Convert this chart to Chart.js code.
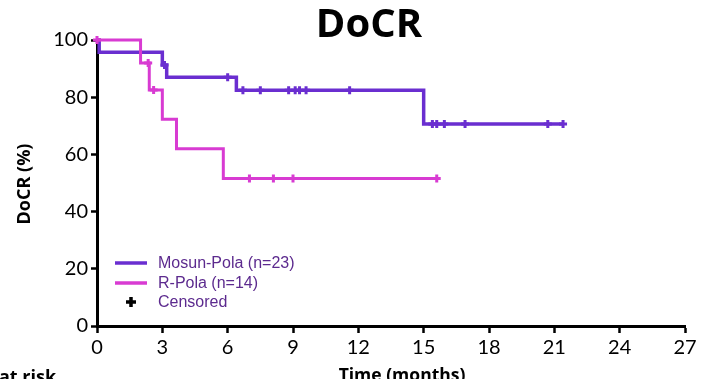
<!DOCTYPE html>
<html lang="en">
<head>
    <meta charset="UTF-8">
    <title>DoCR</title>
    <script src="https://cdn.jsdelivr.net/npm/chart.js"></script>
    <style>
        html, body { margin: 0; padding: 0; background: #fff; }
        #wrap { width: 713px; height: 379px; }
    </style>
</head>
<body>
    <div id="wrap"><canvas id="docrChart"></canvas></div>

    <script>
    // Kaplan-Meier steps: time of each event (months) and survival after it (%)
    const mosunTimes = [0, 0.1, 3.0, 3.2, 6.4, 15.0, 21.4];
    const mosunSurv = [100, 95.7, 91.3, 87.0, 82.4, 70.6, 70.6];
    const mosunCensored = [3.1, 6.0, 6.7, 7.5, 8.8, 9.1, 9.3, 9.6, 11.6, 15.4, 15.6, 15.95, 16.9, 20.7, 21.4];

    const rpolaTimes = [0, 2.0, 2.4, 3.0, 3.65, 5.8, 15.6];
    const rpolaSurv = [100, 92.0, 82.5, 72.3, 62.0, 51.6, 51.6];
    const rpolaCensored = [0, 2.35, 2.6, 7.0, 8.1, 9.0, 15.6];

    const xTicks = [0, 3, 6, 9, 12, 15, 18, 21, 24, 27];
    const yTicks = [0, 20, 40, 60, 80, 100];

    const legendLabels = ['Mosun-Pola (n=23)', 'R-Pola (n=14)', 'Censored'];

    const PURPLE = '#6a2ed0';
    const MAGENTA = '#d83bd2';

    // survival value of a step curve at time t
    function survAt(times, surv, t) {
        let v = surv[0];
        for (let i = 0; i < times.length; i++) {
            if (times[i] <= t) v = surv[i];
        }
        return v;
    }

    const toPoints = (times, surv) => times.map((t, i) => ({ x: t, y: surv[i] }));
    const censorPoints = (times, surv, cens) => cens.map(t => ({ x: t, y: survAt(times, surv, t) }));

    const textPlugin = {
        id: 'docrText',
        afterDraw(chart) {
            const ctx = chart.ctx;
            const area = chart.chartArea;
            ctx.save();
            ctx.fillStyle = '#000';

            // title
            ctx.font = 'bold 40px "Open Sans"';
            ctx.textAlign = 'center';
            ctx.textBaseline = 'alphabetic';
            ctx.fillText('DoCR', 369, 37);

            // y axis title
            ctx.save();
            ctx.translate(25, 184);
            ctx.rotate(-Math.PI / 2);
            ctx.font = 'bold 18px "Open Sans"';
            ctx.textBaseline = 'middle';
            ctx.fillText('DoCR (%)', 0, 0);
            ctx.restore();

            // x axis title and risk table heading
            ctx.font = 'bold 17.5px "Open Sans"';
            ctx.textBaseline = 'top';
            ctx.fillText('Time (months)', 402, 367);
            ctx.textAlign = 'left';
            ctx.font = 'bold 18px "Open Sans"';
            ctx.fillText('at risk', -1, 369);

            // legend
            const lx = area.left + 18;
            const rows = [263, 283, 302];
            ctx.lineWidth = 3.5;
            ctx.strokeStyle = PURPLE;
            ctx.beginPath(); ctx.moveTo(lx, rows[0]); ctx.lineTo(lx + 32, rows[0]); ctx.stroke();
            ctx.strokeStyle = MAGENTA;
            ctx.beginPath(); ctx.moveTo(lx, rows[1]); ctx.lineTo(lx + 32, rows[1]); ctx.stroke();
            ctx.strokeStyle = '#000';
            ctx.lineWidth = 3.5;
            ctx.beginPath();
            ctx.moveTo(lx + 11, rows[2]); ctx.lineTo(lx + 21, rows[2]);
            ctx.moveTo(lx + 16, rows[2] - 5); ctx.lineTo(lx + 16, rows[2] + 5);
            ctx.stroke();

            ctx.font = '16px "Liberation Sans"';
            ctx.fillStyle = '#5c2a8e';
            ctx.textBaseline = 'middle';
            legendLabels.forEach((label, i) => ctx.fillText(label, lx + 43, rows[i] + 1));
            ctx.restore();
        }
    };

    const ctx = document.getElementById('docrChart').getContext('2d');
    new Chart(ctx, {
        type: 'line',
        data: {
            datasets: [
                {
                    label: legendLabels[0],
                    data: toPoints(mosunTimes, mosunSurv),
                    borderColor: PURPLE,
                    borderWidth: 3.5,
                    stepped: true,
                    pointRadius: 0,
                    fill: false,
                    order: 4
                },
                {
                    label: legendLabels[0] + ' censored',
                    data: censorPoints(mosunTimes, mosunSurv, mosunCensored),
                    showLine: false,
                    pointStyle: 'cross',
                    pointRadius: 4,
                    pointBorderWidth: 3,
                    pointBorderColor: PURPLE,
                    order: 3
                },
                {
                    label: legendLabels[1],
                    data: toPoints(rpolaTimes, rpolaSurv),
                    borderColor: MAGENTA,
                    borderWidth: 3,
                    stepped: true,
                    pointRadius: 0,
                    fill: false,
                    order: 2
                },
                {
                    label: legendLabels[1] + ' censored',
                    data: censorPoints(rpolaTimes, rpolaSurv, rpolaCensored),
                    showLine: false,
                    pointStyle: 'cross',
                    pointRadius: 4,
                    pointBorderWidth: 3,
                    pointBorderColor: MAGENTA,
                    order: 1
                }
            ]
        },
        options: {
            responsive: true,
            maintainAspectRatio: false,
            animation: false,
            clip: false,
            layout: { padding: { top: 40, right: 28, left: 0, bottom: 0 } },
            scales: {
                x: {
                    type: 'linear',
                    min: 0,
                    max: 27,
                    afterFit: s => { s.height = 53; },
                    afterBuildTicks: s => { s.ticks = xTicks.map(v => ({ value: v })); },
                    border: { display: true, color: '#000', width: 3 },
                    grid: { drawOnChartArea: false, drawTicks: true, tickLength: 7, tickColor: '#000', tickWidth: 2.5 },
                    ticks: { color: '#000', padding: 3, font: { family: 'Lato', size: 20 } }
                },
                y: {
                    min: 0,
                    max: 100,
                    afterFit: s => { s.width = 97; },
                    afterBuildTicks: s => { s.ticks = yTicks.map(v => ({ value: v })); },
                    border: { display: true, color: '#000', width: 3 },
                    grid: { drawOnChartArea: false, drawTicks: true, tickLength: 6, tickColor: '#000', tickWidth: 2.5 },
                    ticks: { color: '#000', padding: 3, font: { family: 'Lato', size: 20 } }
                }
            },
            plugins: {
                legend: { display: false },
                title: { display: false },
                tooltip: { enabled: false }
            }
        },
        plugins: [textPlugin]
    });
    </script>
</body>
</html>
